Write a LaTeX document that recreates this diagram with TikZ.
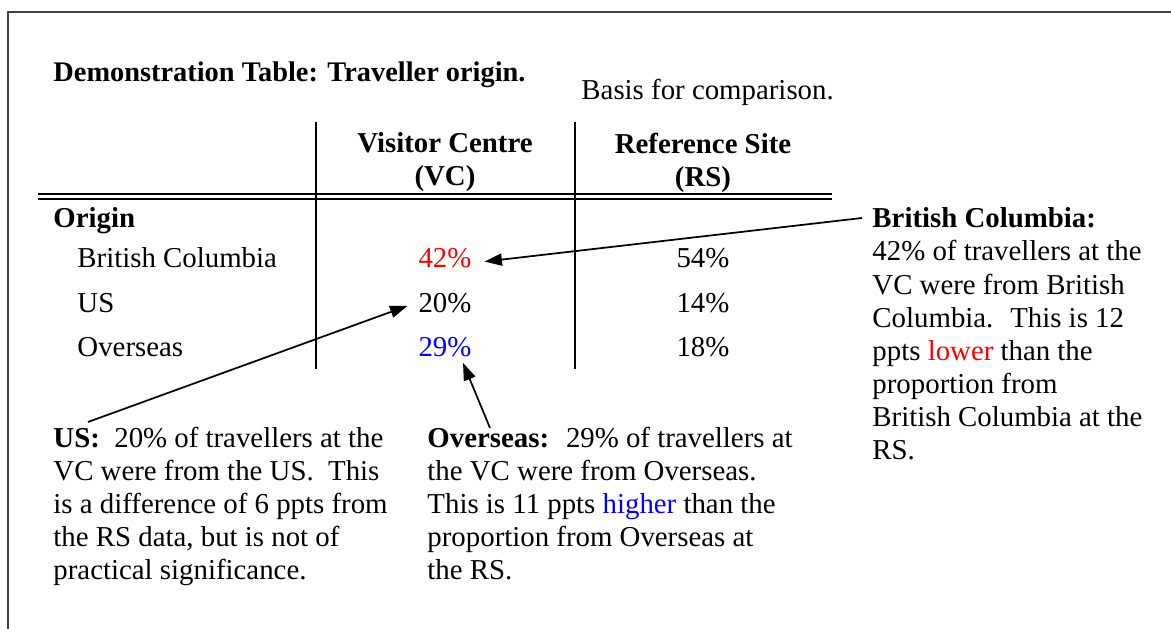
\documentclass[tikz,border=0pt]{standalone}
\usepackage{fontspec}
\setmainfont{Liberation Serif}
\usetikzlibrary{arrows.meta,calc}
\definecolor{hired}{RGB}{255,0,0}
\definecolor{hiblue}{RGB}{0,0,255}
\tikzset{
  body/.style={inner sep=0pt, font=\fontsize{12.4}{14.2}\selectfont},
  para/.style={body, anchor=north west, align=left},
  cell/.style={body, anchor=base},
  rowlabel/.style={body, anchor=base west},
  colhead/.style={inner sep=0pt, font=\fontsize{12.4}{14.2}\selectfont\bfseries, anchor=north, align=center},
  rule/.style={line width=0.8pt},
  pointer/.style={line width=0.75pt, -{Triangle[length=7.5pt,width=5.2pt]}},
  frame/.style={line width=1pt, draw=black!75},
}
\begin{document}
\begin{tikzpicture}[x=0.43pt,y=-0.43pt]
  \useasboundingbox (0,0) rectangle (1171,629);
  % outer frame (top and left edges)
  \draw[frame] (8,629) -- (8,12) -- (1171,12);

  % title and caption
  \node[inner sep=0pt, anchor=base west, font=\fontsize{12.2}{14}\selectfont\bfseries] (title) at (53,82) {Demonstration Table: Traveller origin.};
  \node[body, anchor=base west] (basis) at (581,100) {Basis for comparison.};

  % table rules
  \draw[rule] (316,122) -- (316,369);
  \draw[rule] (575,122) -- (575,369);
  \draw[rule] (38,194) -- (832,194);
  \draw[rule] (38,199) -- (832,199);

  % column heads
  \node[colhead] (vchead) at (445,132.5) {Visitor Centre\\(VC)};
  \node[colhead] (rshead) at (703,132.5) {Reference Site\\(RS)};

  % row labels
  \node[body, anchor=base west, font=\fontsize{12.4}{14.2}\selectfont\bfseries] (origin) at (53,228) {Origin};
  \node[rowlabel] (bc) at (77,268) {British Columbia};
  \node[rowlabel] (us) at (77,313) {US};
  \node[rowlabel] (os) at (77,357) {Overseas};

  % values
  \node[cell, text=hired] (v42) at (445,268) {42\%};
  \node[cell] (v20) at (445,313) {20\%};
  \node[cell, text=hiblue] (v29) at (445,357) {29\%};
  \node[cell] (r54) at (703,268) {54\%};
  \node[cell] (r14) at (703,313) {14\%};
  \node[cell] (r18) at (703,357) {18\%};

  % notes
  \node[para] (bcnote) at (872,207.5) {\textbf{British Columbia:}\\42\% of travellers at the\\VC were from British\\Columbia.~ This is 12\\ppts \textcolor{hired}{lower} than the\\proportion from\\British Columbia at the\\RS.};
  \node[para] (usnote) at (53,426.5) {\textbf{US:}~ 20\% of travellers at the\\VC were from the US.~ This\\is a difference of 6 ppts from\\the RS data, but is not of\\practical significance.};
  \node[para] (osnote) at (427,426.5) {\textbf{Overseas:}~ 29\% of travellers at\\the VC were from Overseas.\\This is 11 ppts \textcolor{hiblue}{higher} than the\\proportion from Overseas at\\the RS.};

  % pointers from notes to values
  \draw[pointer] ($(bcnote.north west)+(-10,10.5)$) -- ($(v42.east)+(12.6,3)$);
  \draw[pointer] ($(usnote.north west)+(35,-4.5)$) -- ($(v20.south west)+(-10.6,-8)$);
  \draw[pointer] ($(osnote.north west)+(63,1.5)$) -- ($(v29.south)+(18,5)$);
\end{tikzpicture}
\end{document}
